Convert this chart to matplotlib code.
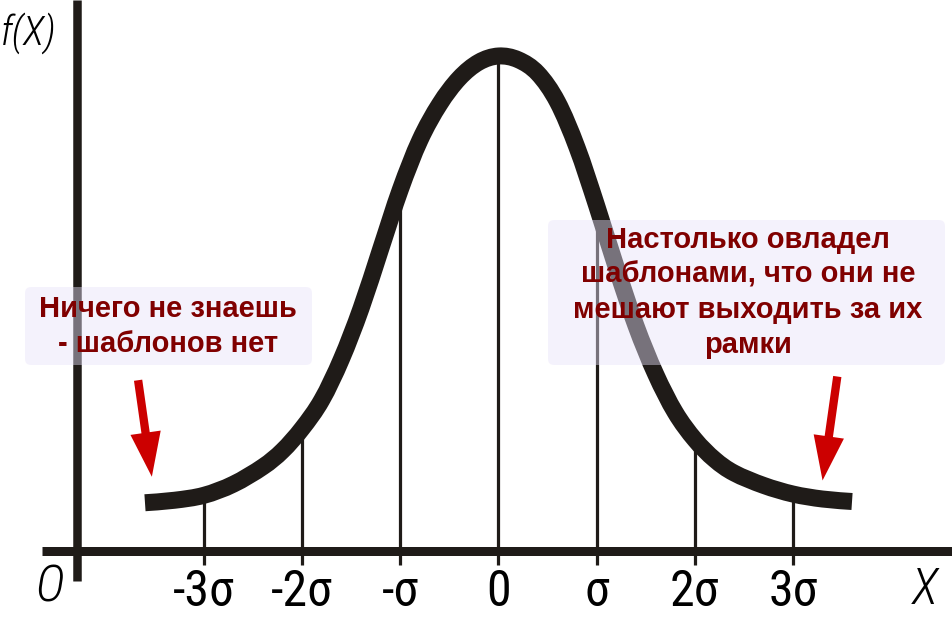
import matplotlib
matplotlib.use("Agg")
import matplotlib.pyplot as plt
import numpy as np
from matplotlib.patches import FancyBboxPatch, PathPatch
from matplotlib.path import Path
from matplotlib.transforms import IdentityTransform

# ---------------- data ----------------
curve_x = [-3.6, -3.3, -3.0, -2.7, -2.4, -2.2, -2.0, -1.8, -1.6, -1.4,
           -1.2, -1.0, -0.8, -0.6, -0.4, -0.2, 0.0, 0.2, 0.4, 0.6,
           0.8, 1.0, 1.2, 1.4, 1.6, 1.8, 2.0, 2.2, 2.4, 2.7,
           3.0, 3.3, 3.6]
curve_y = [0.039, 0.041, 0.045, 0.054, 0.068, 0.081, 0.099, 0.122, 0.155, 0.196,
           0.244, 0.292, 0.332, 0.361, 0.382, 0.395, 0.400, 0.397, 0.386, 0.363,
           0.326, 0.279, 0.229, 0.182, 0.143, 0.112, 0.090, 0.074, 0.063, 0.053,
           0.046, 0.042, 0.040]
tick_pos = [-3, -2, -1, 0, 1, 2, 3]
tick_labels = ["-3σ", "-2σ", "-σ", "0", "σ", "2σ", "3σ"]

left_note = ["Ничего не знаешь", "- шаблонов нет"]
right_note = ["Настолько овладел", "шаблонами, что они не",
              "мешают выходить за их", "рамки"]
# arrows: (tail_x, tail_y, tip_x, tip_y) in data units
arrows = [(-3.67, 0.138, -3.53, 0.060),
          (3.45, 0.141, 3.30, 0.057)]

# ---------------- layout ----------------
W, H = 953, 618
X0, SX = 498.5, 98.2          # pixel of x=0, pixels per sigma
Y0, SY = 551.0, 1237.5        # pixel of y=0, pixels per unit

INK = "#1f1b18"
RED_TXT = "#800000"
RED_ARW = "#cc0000"
label_font = ["Roboto Condensed", "Liberation Sans Narrow", "Liberation Sans", "DejaVu Sans"]

fig = plt.figure(figsize=(W / 100, H / 100), dpi=100)
ax = fig.add_axes([0, 0, 1, 1])
ax.set_xlim(-X0 / SX, (W - X0) / SX)
ax.set_ylim((Y0 - H) / SY, Y0 / SY)
ax.axis("off")

def af(xp, yp):
    """pixel (from top-left) -> axes fraction"""
    return xp / W, 1 - yp / H

pt = 72 / 100  # points per pixel

# axes lines
ax.plot(*zip(af(42, 551), af(953, 551)), transform=ax.transAxes,
        color=INK, lw=9 * pt, solid_capstyle="butt", zorder=2)
ax.plot(*zip(af(77.5, 0), af(77.5, 581)), transform=ax.transAxes,
        color=INK, lw=8.5 * pt, solid_capstyle="butt", zorder=2)

# sigma lines
tick_bottom = (Y0 - 565) / SY
for p in tick_pos:
    top = np.interp(p, curve_x, curve_y)
    ax.plot([p, p], [tick_bottom, top], color=INK, lw=3.2 * pt,
            solid_capstyle="butt", zorder=2)

# curve: smooth cubic path through the read points (Catmull-Rom)
pts = np.column_stack([curve_x, curve_y])
n = len(pts)
verts = [pts[0]]
codes = [Path.MOVETO]
for i in range(n - 1):
    p0 = pts[i - 1] if i > 0 else pts[i]
    p1, p2 = pts[i], pts[i + 1]
    p3 = pts[i + 2] if i + 2 < n else pts[i + 1]
    verts += [p1 + (p2 - p0) / 6, p2 - (p3 - p1) / 6, p2]
    codes += [Path.CURVE4] * 3
ax.add_patch(PathPatch(Path(verts, codes), fill=False, ec=INK, lw=17 * pt,
                       capstyle="butt", joinstyle="round", zorder=3))

# tick labels
for p, lab in zip(tick_pos, tick_labels):
    ax.text(p, (Y0 - 606) / SY, lab, ha="center", va="baseline",
            family=label_font, fontsize=36, color="black", zorder=4)

# axis names
ital = dict(family=label_font, style="italic", weight="light", color="black")
ax.text(*af(35, 602), "O", transform=ax.transAxes, ha="left", va="baseline",
        fontsize=36, **ital)
ax.text(*af(912, 604), "X", transform=ax.transAxes, ha="left", va="baseline",
        fontsize=36, **ital)
ax.text(*af(1, 45), "f(X)", transform=ax.transAxes, ha="left", va="baseline",
        fontsize=29, **ital)

# note boxes
box_fc = (232 / 255, 227 / 255, 250 / 255)
for (x1, y1, x2, y2) in [(25, 287, 312, 365), (548, 220, 945, 365)]:
    b = FancyBboxPatch((x1, H - y2), x2 - x1, y2 - y1,
                       boxstyle="round,pad=0,rounding_size=6",
                       transform=IdentityTransform(), fc=box_fc, ec="none",
                       alpha=0.44, zorder=5)
    ax.add_artist(b)

for lines, cx, base0 in [(left_note, 168, 317), (right_note, 748, 248)]:
    for i, line in enumerate(lines):
        ax.text(*af(cx, base0 + 35 * i), line, transform=ax.transAxes,
                ha="center", va="baseline", family="Liberation Sans",
                weight="bold", fontsize=21, color=RED_TXT, zorder=6)

# arrows
for tx, ty, hx, hy in arrows:
    ax.annotate("", xy=(hx, hy), xytext=(tx, ty),
                arrowprops=dict(arrowstyle="simple,head_length=32,head_width=22,tail_width=6",
                                mutation_scale=1, color=RED_ARW, lw=0,
                                shrinkA=0, shrinkB=0),
                zorder=6)

fig.savefig("out.png", dpi=100)
